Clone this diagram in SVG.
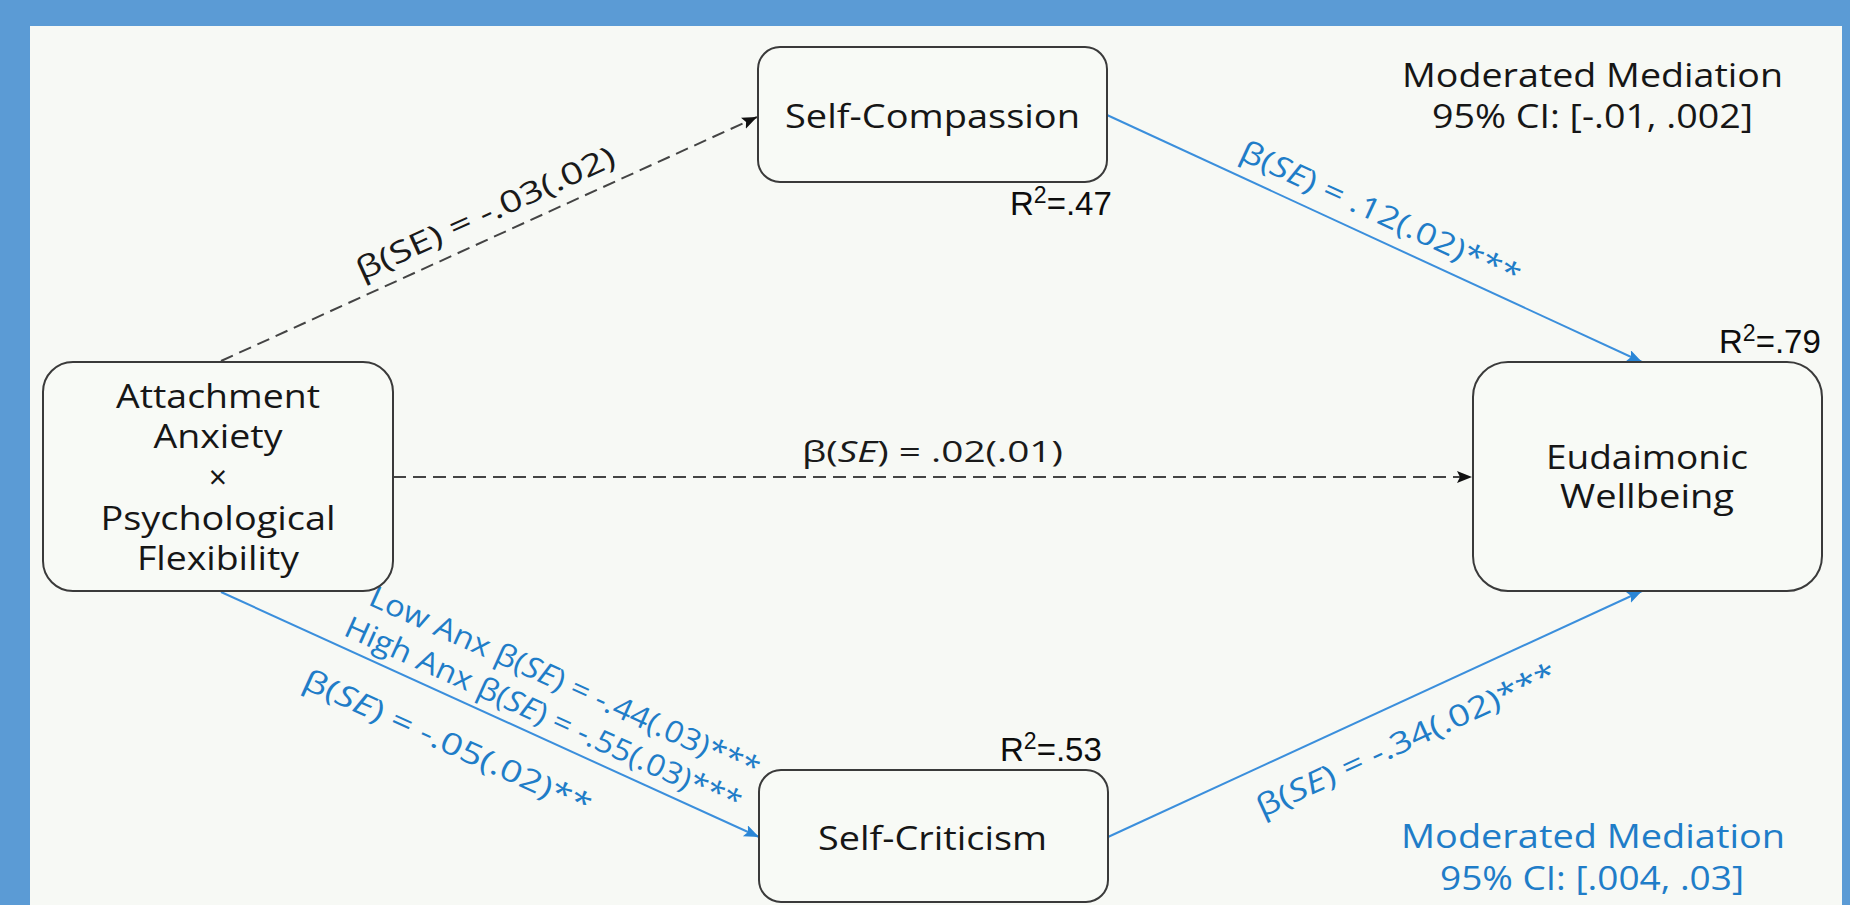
<svg xmlns="http://www.w3.org/2000/svg" width="1850" height="905" viewBox="0 0 1850 905">
  <style>
    .node rect { fill: #f8faf6; stroke: #3a3a3a; stroke-width: 2; }
    .t { font-family: "Open Sans", "Noto Sans", sans-serif; font-size: 32px; fill: #161616; }
    .r2 { font-family: "Liberation Sans", Arial, sans-serif; font-size: 33px; fill: #0d0d0d; }
    .blue { fill: #1f7dc8; }
    .lbl { font-family: "Open Sans", "Noto Sans", sans-serif; font-size: 30px; }
    .dash { stroke: #444; stroke-width: 2; stroke-dasharray: 13 7; fill: none; }
    .solid { stroke: #3b8fdc; stroke-width: 2; fill: none; }
  </style>
  <defs>
    <marker id="arrowBlack" markerUnits="userSpaceOnUse" markerWidth="16" markerHeight="14" refX="15" refY="6" orient="auto">
      <path d="M0,0 L15,6 L0,12 L3,6 Z" fill="#111"/>
    </marker>
    <marker id="arrowBlue" markerUnits="userSpaceOnUse" markerWidth="16" markerHeight="14" refX="15" refY="6" orient="auto">
      <path d="M0,0 L15,6 L0,12 L3,6 Z" fill="#2a86d6"/>
    </marker>
  </defs>

  <!-- frame and panel -->
  <rect x="0" y="0" width="1850" height="905" fill="#5b9bd5"/>
  <rect x="30" y="26" width="1812" height="890" fill="#f7f9f5"/>

  <!-- connectors -->
  <g id="connectors">
    <line class="dash" x1="221" y1="361" x2="757" y2="117" marker-end="url(#arrowBlack)"/>
    <line class="dash" x1="393" y1="477" x2="1472" y2="477" marker-end="url(#arrowBlack)"/>
    <line class="solid" x1="1107" y1="115" x2="1642" y2="362" marker-end="url(#arrowBlue)"/>
    <line class="solid" x1="221" y1="592" x2="759" y2="837" marker-end="url(#arrowBlue)"/>
    <line class="solid" x1="1108" y1="837" x2="1642" y2="591" marker-end="url(#arrowBlue)"/>

    <!-- path coefficients -->
    <g transform="translate(221,361) rotate(-24.43)">
      <text class="lbl" x="302" y="-15" text-anchor="middle" fill="#1a1a1a" textLength="281" lengthAdjust="spacingAndGlyphs">β(SE) = -.03(.02)</text>
    </g>
    <text class="lbl" x="932.5" y="462" text-anchor="middle" fill="#1a1a1a" textLength="261" lengthAdjust="spacingAndGlyphs">β(<tspan font-style="italic">SE</tspan>) = .02(.01)</text>
    <g transform="translate(1107,115) rotate(24.78)">
      <text class="lbl blue" x="137" y="-15" textLength="305" lengthAdjust="spacingAndGlyphs">β(<tspan font-style="italic">SE</tspan>) = .12(.02)***</text>
    </g>
    <g transform="translate(221,592) rotate(24.36)">
      <text class="lbl blue" x="138" y="-49" textLength="425" lengthAdjust="spacingAndGlyphs">Low Anx β(<tspan font-style="italic">SE</tspan>) = -.44(.03)***</text>
      <text class="lbl blue" x="128" y="-11" textLength="432" lengthAdjust="spacingAndGlyphs">High Anx β(<tspan font-style="italic">SE</tspan>) = -.55(.03)***</text>
      <text class="lbl blue" x="112" y="54" textLength="313" lengthAdjust="spacingAndGlyphs">β(<tspan font-style="italic">SE</tspan>) = -.05(.02)**</text>
    </g>
    <g transform="translate(1108,837) rotate(-24.73)">
      <text class="lbl blue" x="148" y="47" textLength="327" lengthAdjust="spacingAndGlyphs">β(<tspan font-style="italic">SE</tspan>) = -.34(.02)***</text>
    </g>
  </g>

  <!-- nodes -->
  <g id="node-attachment" class="node">
    <rect x="43" y="362" width="350" height="229" rx="30"/>
    <text class="t" x="218" y="408" text-anchor="middle" textLength="204" lengthAdjust="spacingAndGlyphs">Attachment</text>
    <text class="t" x="218" y="448" text-anchor="middle" textLength="129" lengthAdjust="spacingAndGlyphs">Anxiety</text>
    <text class="t" x="218" y="489" text-anchor="middle">×</text>
    <text class="t" x="218" y="530" text-anchor="middle" textLength="235" lengthAdjust="spacingAndGlyphs">Psychological</text>
    <text class="t" x="218" y="570" text-anchor="middle" textLength="162" lengthAdjust="spacingAndGlyphs">Flexibility</text>
  </g>

  <g id="node-self-compassion" class="node">
    <rect x="758" y="47" width="349" height="135" rx="22"/>
    <text class="t" x="932.5" y="128" text-anchor="middle" textLength="295" lengthAdjust="spacingAndGlyphs">Self-Compassion</text>
    <text class="r2" x="1010" y="215">R<tspan font-size="23" dy="-12">2</tspan><tspan dy="12">=.47</tspan></text>
  </g>

  <g id="node-eudaimonic" class="node">
    <rect x="1473" y="362" width="349" height="229" rx="35"/>
    <text class="t" x="1647" y="469" text-anchor="middle" textLength="202" lengthAdjust="spacingAndGlyphs">Eudaimonic</text>
    <text class="t" x="1647" y="508" text-anchor="middle" textLength="174" lengthAdjust="spacingAndGlyphs">Wellbeing</text>
    <text class="r2" x="1719" y="353">R<tspan font-size="23" dy="-12">2</tspan><tspan dy="12">=.79</tspan></text>
  </g>

  <g id="node-self-criticism" class="node">
    <rect x="759" y="770" width="349" height="132" rx="22"/>
    <text class="t" x="932.5" y="850" text-anchor="middle" textLength="229" lengthAdjust="spacingAndGlyphs">Self-Criticism</text>
    <text class="r2" x="1000" y="761">R<tspan font-size="23" dy="-12">2</tspan><tspan dy="12">=.53</tspan></text>
  </g>

  <!-- indirect-effect summaries -->
  <g id="note-compassion">
    <text class="t" x="1592.5" y="87" text-anchor="middle" textLength="381" lengthAdjust="spacingAndGlyphs">Moderated Mediation</text>
    <text class="t" x="1592.5" y="128" text-anchor="middle" textLength="321" lengthAdjust="spacingAndGlyphs">95% CI: [-.01, .002]</text>
  </g>
  <g id="note-criticism">
    <text class="t blue" x="1593" y="848" text-anchor="middle" textLength="384" lengthAdjust="spacingAndGlyphs">Moderated Mediation</text>
    <text class="t blue" x="1592" y="890" text-anchor="middle" textLength="304" lengthAdjust="spacingAndGlyphs">95% CI: [.004, .03]</text>
  </g>
</svg>
